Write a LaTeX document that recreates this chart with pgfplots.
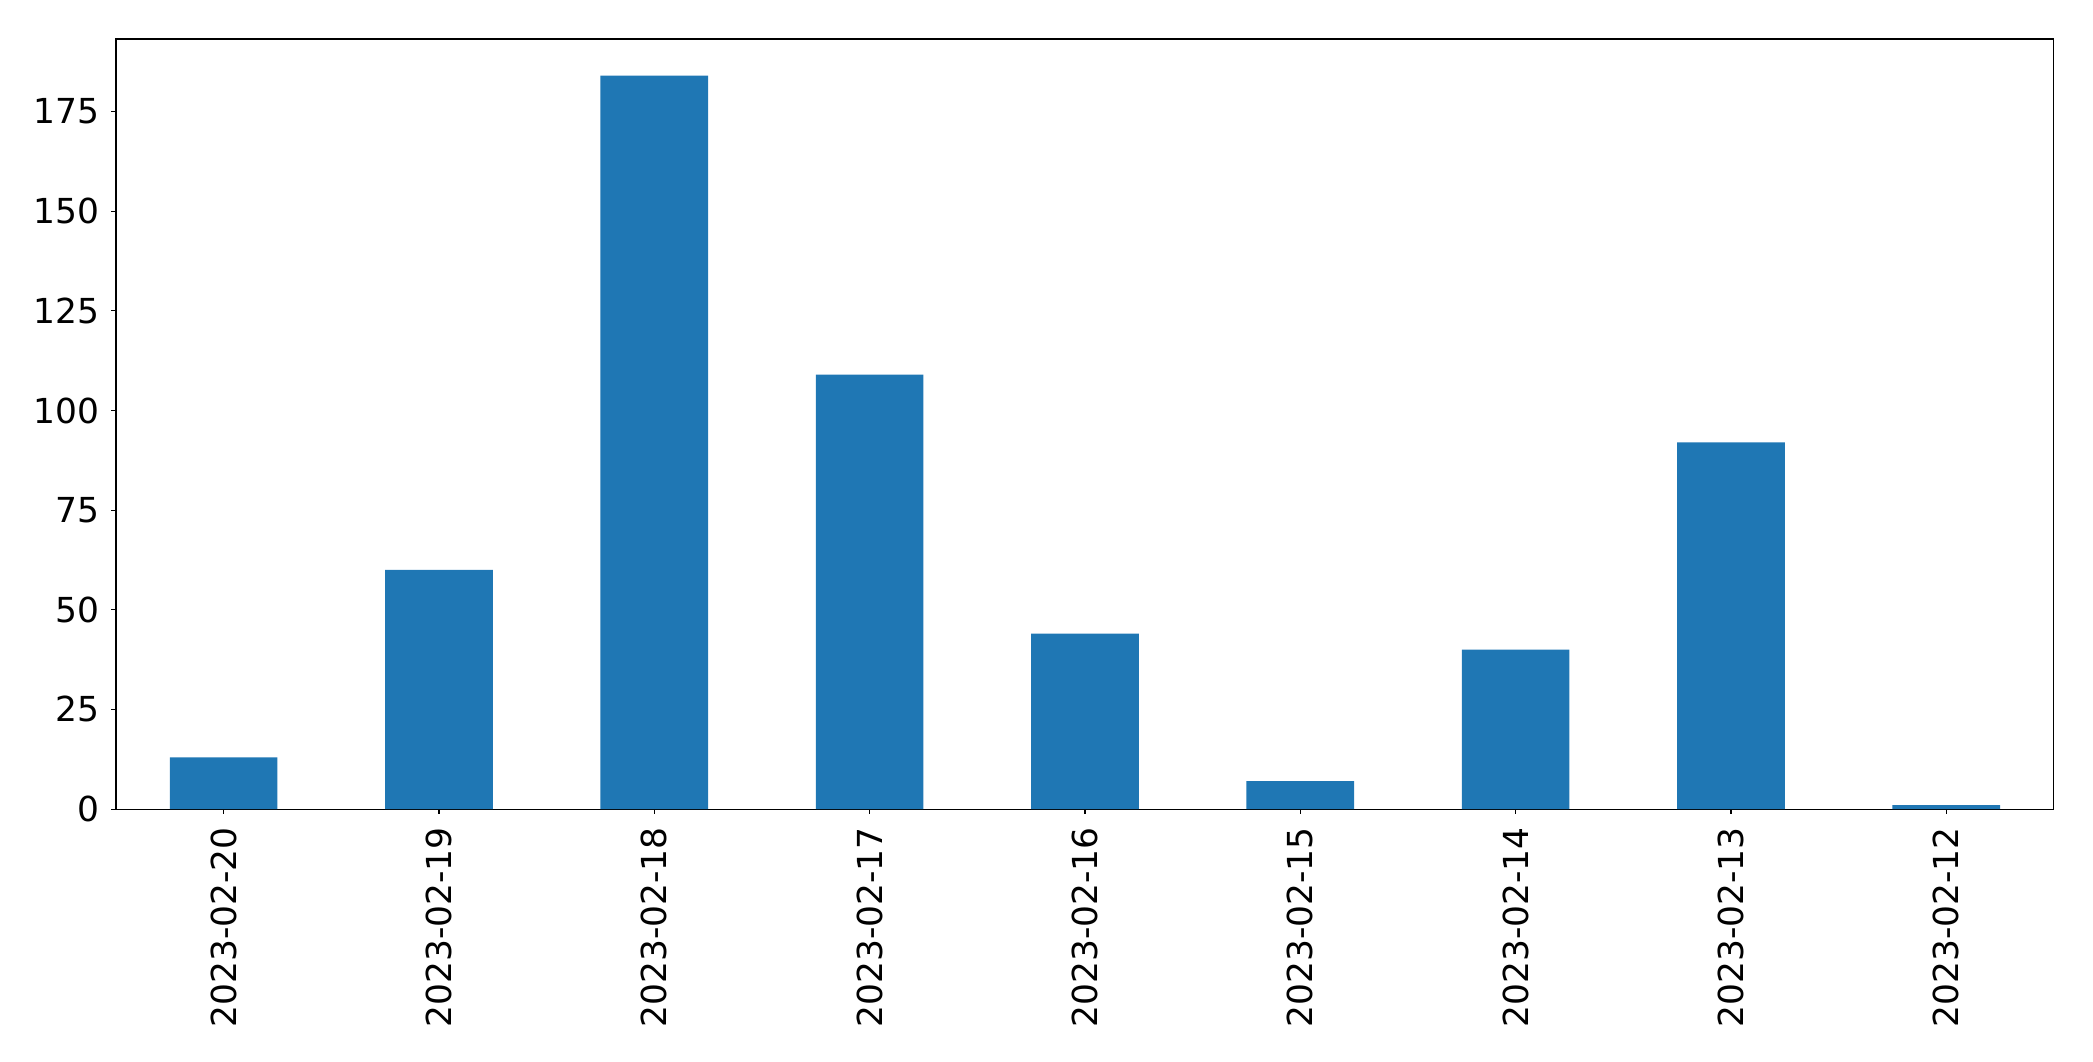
\documentclass[border=0pt]{standalone}
\usepackage{pgfplots}
\pgfplotsset{compat=1.18}
\usepackage{fontspec}
\setmainfont{DejaVu Sans}
\definecolor{mplblue}{HTML}{1F77B4}
\begin{document}
\fontsize{24.8}{29}\selectfont
\begin{tikzpicture}
\path[use as bounding box] (-83.5pt,-181.4pt) rectangle (1423.4pt,582.5pt);
\begin{axis}[
  at={(0,0)}, anchor=south west,
  scale only axis,
  width=1395.4pt, height=554.4pt,
  xmin=-0.5, xmax=8.5,
  ymin=0, ymax=193.2,
  xtick={0,...,8},
  xticklabels={2023-02-20,2023-02-19,2023-02-18,2023-02-17,2023-02-16,2023-02-15,2023-02-14,2023-02-13,2023-02-12},
  xticklabel style={rotate=90, anchor=east, font=\fontsize{24.8}{29}\selectfont},
  xticklabel shift=1.2pt,
  ytick={0,25,50,75,100,125,150,175},
  yticklabel style={font=\fontsize{24.8}{29}\selectfont},
  /pgf/number format/assume math mode=true,
  tick align=outside,
  tick pos=left,
  major tick length=3.5pt,
  every tick/.style={black, line width=0.8pt},
  axis line style={line width=0.8pt},
]
\addplot[ybar, bar width=0.5, fill=mplblue, draw=none] coordinates {
(0,13) (1,60) (2,184) (3,109) (4,44) (5,7) (6,40) (7,92) (8,1)
};
\end{axis}
\end{tikzpicture}
\end{document}
